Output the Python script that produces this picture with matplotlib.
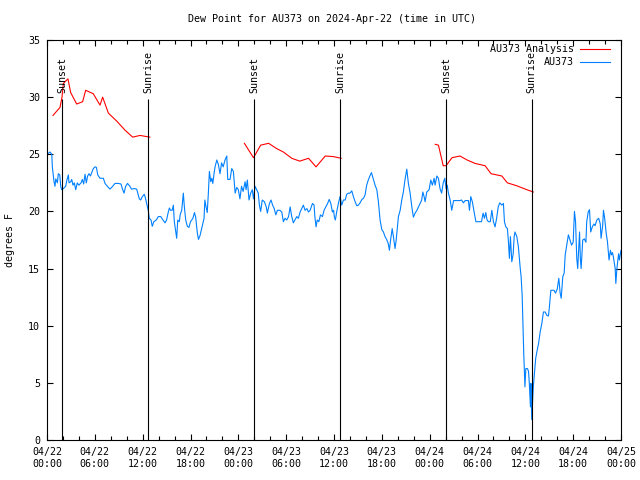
from datetime import datetime, timedelta

import matplotlib

matplotlib.use("Agg")

import matplotlib.pyplot as plt
import matplotlib.dates as mdates
import numpy as np
from matplotlib.lines import Line2D


START = datetime(2024, 4, 22)

# hours since 2024-04-22 00:00 UTC, dew point (F) of the station
obs_hours = [
    0.0, 0.38, 0.6, 0.67, 0.88, 1.0, 1.1, 1.3, 1.42, 1.6, 1.72, 1.84, 2.05, 2.34, 2.5,
    2.68, 2.76, 2.98, 3.1, 3.26, 3.43, 3.6, 3.8, 4.0, 4.27, 4.43, 4.6, 4.77, 4.93, 5.1,
    5.27, 5.45, 5.81, 6.02, 6.2, 6.36, 6.65, 7.07, 7.28, 7.57, 7.9, 8.24, 8.53, 8.95, 9.28,
    9.45, 9.66, 9.87, 10.1, 10.4, 10.6, 10.95, 11.25, 11.38, 11.58, 11.75, 11.96, 12.2, 12.3,
    12.5, 12.7, 12.83, 13.05, 13.2, 13.4, 13.7, 13.97, 14.27, 14.5, 14.8, 15.0, 15.2, 15.35,
    15.5, 15.7, 15.85, 15.97, 16.15, 16.27, 16.4, 16.6, 16.7, 16.9, 17.03, 17.1, 17.23, 17.4,
    17.6, 17.8, 18.0, 18.3, 18.5, 18.65, 18.86, 19.0, 19.2, 19.45, 19.7, 19.8, 19.95, 20.1,
    20.24, 20.37, 20.54, 20.67, 20.8, 20.95, 21.08, 21.3, 21.5, 21.7, 21.9, 22.1, 22.33,
    22.55, 22.67, 22.96, 23.17, 23.38, 23.6, 23.8, 24.0, 24.2, 24.4, 24.6, 24.85, 24.97,
    25.13, 25.34, 25.55, 25.76, 25.9, 26.1, 26.3, 26.5, 26.64, 26.8, 27.0, 27.27, 27.5,
    27.64, 27.9, 28.1, 28.3, 28.5, 28.7, 28.9, 29.2, 29.45, 29.65, 29.86, 30.07, 30.3, 30.5,
    30.7, 30.9, 31.1, 31.33, 31.53, 31.75, 31.96, 32.16, 32.37, 32.6, 32.8, 33.0, 33.3,
    33.5, 33.6, 33.75, 33.9, 34.1, 34.3, 34.55, 34.75, 34.97, 35.2, 35.4, 35.6, 35.8, 35.95,
    36.05, 36.17, 36.35, 36.55, 36.76, 36.97, 37.18, 37.4, 37.6, 37.8, 38.0, 38.23, 38.43,
    38.65, 38.86, 39.06, 39.27, 39.5, 39.7, 39.9, 40.1, 40.3, 40.5, 40.7, 40.9, 41.15, 41.37,
    41.57, 41.78, 42.0, 42.2, 42.4, 42.6, 42.8, 42.95, 43.1, 43.3, 43.45, 43.66, 43.8, 43.95,
    44.08, 44.3, 44.5, 44.7, 44.9, 45.13, 45.33, 45.55, 45.76, 45.96, 46.17, 46.4, 46.6,
    46.8, 47.0, 47.14, 47.3, 47.43, 47.64, 47.93, 48.14, 48.34, 48.56, 48.68, 48.9, 49.1,
    49.3, 49.5, 49.7, 49.9, 50.06, 50.2, 50.35, 50.57, 50.77, 51.0, 51.4, 51.8, 52.0, 52.23,
    52.45, 52.86, 52.99, 53.16, 53.37, 53.6, 53.8, 54.1, 54.5, 54.7, 54.87, 55.04, 55.2,
    55.37, 55.6, 55.8, 56.0, 56.2, 56.4, 56.6, 56.8, 57.05, 57.25, 57.38, 57.55, 57.75,
    57.88, 58.0, 58.13, 58.3, 58.47, 58.6, 58.7, 58.93, 59.13, 59.35, 59.47, 59.6, 59.7,
    59.8, 59.95, 60.06, 60.27, 60.4, 60.5, 60.64, 60.7, 60.8, 60.88, 61.0, 61.14, 61.3,
    61.5, 61.65, 61.86, 62.07, 62.27, 62.5, 62.7, 62.9, 63.0, 63.2, 63.4, 63.6, 63.78, 64.0,
    64.2, 64.37, 64.5, 64.7, 64.87, 65.0, 65.2, 65.4, 65.6, 65.8, 66.0, 66.16, 66.3, 66.45,
    66.57, 66.8, 66.9, 67.0, 67.2, 67.4, 67.6, 67.7, 67.9, 68.05, 68.2, 68.4, 68.6, 68.75,
    68.97, 69.2, 69.4, 69.5, 69.7, 69.8, 69.95, 70.14, 70.3, 70.5, 70.67, 70.8, 70.93,
    71.05, 71.27, 71.35, 71.5, 71.7, 71.8, 72.0,
]
obs_dewpt = [
    25.0, 25.2, 25.0, 23.9, 22.6, 22.2, 22.85, 22.5, 23.3, 23.2, 22.2, 21.9, 22.0, 22.2, 22.75,
    23.2, 22.5, 22.6, 22.8, 22.3, 22.5, 21.9, 22.5, 22.3, 22.5, 22.8, 22.4, 23.25, 22.5, 23.1,
    23.3, 23.1, 23.75, 23.9, 23.85, 23.2, 22.9, 22.9, 22.45, 22.2, 21.95, 22.2, 22.45, 22.45, 22.4,
    22.0, 21.6, 22.2, 22.45, 22.2, 21.95, 22.0, 21.95, 21.6, 21.1, 21.0, 21.3, 21.5, 21.3,
    20.7, 20.1, 19.4, 19.25, 18.7, 19.1, 19.25, 19.55, 19.55, 19.3, 19.0, 19.25, 19.9, 20.3,
    20.1, 20.1, 20.55, 19.1, 18.2, 17.65, 19.25, 19.1, 19.7, 20.1, 21.1, 21.6, 20.4, 19.25,
    18.7, 18.6, 19.1, 19.4, 19.9, 19.5, 18.1, 17.55, 17.9, 18.65, 19.4, 21.0, 20.4, 19.9,
    21.6, 23.5, 22.6, 22.9, 22.45, 23.3, 23.9, 24.5, 24.1, 23.3, 24.25, 23.9, 24.5,
    24.85, 22.8, 22.8, 23.75, 23.5, 21.6, 22.1, 21.9, 21.1, 22.2, 21.75, 22.6, 21.9,
    22.75, 21.0, 21.6, 21.9, 21.1, 22.2, 21.9, 21.6, 20.55, 20.0, 21.0, 20.85, 20.4,
    19.85, 20.7, 21.0, 20.55, 20.25, 19.7, 20.1, 20.1, 19.95, 19.1, 19.4, 19.25, 19.55, 20.4,
    19.55, 19.0, 19.25, 19.55, 19.4, 19.95, 20.25, 20.55, 20.1, 20.25, 19.95, 20.1, 20.7,
    20.55, 19.55, 18.65, 19.25, 19.1, 19.7, 19.55, 20.1, 20.4, 20.7, 21.05, 20.7, 19.95, 20.1,
    19.5, 19.25, 20.0, 20.7, 21.3, 20.55, 21.0, 21.0, 21.5, 21.6, 21.6, 21.8, 21.3,
    20.85, 20.5, 20.55, 20.75, 21.05, 21.15, 21.45, 22.3, 22.75, 23.1, 23.4, 22.9, 22.3, 21.9,
    20.85, 19.25, 18.4, 18.2, 17.8, 17.55, 17.2, 16.6, 17.5, 18.5, 17.8, 16.75, 17.5, 18.65,
    19.55, 20.1, 21.0, 21.7, 22.75, 23.7, 22.45, 21.6, 20.4, 19.5, 19.85, 20.1, 20.4,
    20.7, 21.0, 21.7, 21.3, 20.85, 21.7, 21.9, 22.75, 22.3, 22.9, 22.3, 23.1, 22.9,
    22.0, 21.6, 22.5, 22.9, 22.0, 22.3, 21.6, 21.0, 20.1, 20.95, 20.95, 20.95, 21.0, 20.75,
    20.95, 20.95, 20.1, 21.3, 20.8, 19.85, 19.1, 19.1, 19.1, 19.85, 19.4, 19.9, 19.25,
    19.1, 19.1, 20.1, 19.1, 18.65, 19.4, 20.4, 20.75, 20.55, 20.7, 19.1, 18.65, 18.5,
    17.35, 15.9, 17.8, 15.6, 16.25, 17.8, 18.2, 17.8, 16.9, 15.1, 14.3, 12.7, 10.2,
    7.6, 4.65, 6.25, 6.25, 6.0, 4.95, 2.9, 4.95, 1.8, 2.9, 4.65, 5.85, 7.15,
    7.9, 8.4, 9.45, 10.2, 11.2, 11.2, 10.9, 10.85, 11.5, 13.1, 13.1, 13.1, 12.85, 13.2,
    14.15, 12.85, 12.4, 14.3, 14.6, 16.2, 17.05, 17.95, 17.5, 17.05, 17.3, 20.0, 19.1, 15.9,
    15.0, 18.2, 15.9, 15.0, 17.5, 17.6, 17.3, 19.1, 20.0, 20.15, 18.2, 18.65, 18.9, 18.75,
    19.25, 19.4, 18.9, 17.65, 18.75, 20.1, 19.4, 18.1, 17.35, 15.75, 16.6, 16.2, 16.4,
    16.0, 15.0, 13.7, 15.1, 16.3, 15.75, 16.6,
]

# analysis dew point, gaps (nan) between the three runs
ana_hours = [
    0.75, 1.63, 1.88, 2.05, 2.63, 2.97, 3.72, 4.47, 4.85, 5.8, 6.65, 6.98, 7.7, 8.75, 9.8,
    10.75, 11.67, 12.9, np.nan,
    24.76, 25.9, 26.8, 27.8, 28.8, 29.65, 30.7, 31.7, 32.8, 33.75, 34.9, 35.9, 36.9, np.nan,
    48.7, 49.1, 49.7, 50.06, 50.8, 51.8, 52.7, 53.7, 54.95, 55.7, 57.05, 57.75, 58.9,
    60.2, 61.0,
]
ana_dewpt = [
    28.4, 29.1, 30.0, 31.2, 31.6, 30.4, 29.4, 29.6, 30.6, 30.3, 29.3, 30.0, 28.6, 27.9, 27.1,
    26.5, 26.65, 26.5, np.nan,
    25.96, 24.7, 25.8, 25.96, 25.5, 25.2, 24.65, 24.4, 24.65, 23.9, 24.85, 24.8, 24.65, np.nan,
    25.87, 25.8, 24.0, 24.0, 24.7, 24.85, 24.5, 24.2, 24.0, 23.3, 23.1, 22.5, 22.25,
    21.9, 21.7,
]

sun_hours = [1.92, 12.7, 26.0, 36.8, 50.1, 60.8]
sun_labels = ["Sunset", "Sunrise", "Sunset", "Sunrise", "Sunset", "Sunrise"]

RED = "#ff0000"
BLUE = "#0080ff"
FONT = "DejaVu Sans Mono"
FS = 7.2
LW = 0.8


def hours_to_num(hours):
    return [mdates.date2num(START + timedelta(hours=float(h))) if not np.isnan(h) else np.nan
            for h in hours]


plt.rcParams["font.family"] = FONT
plt.rcParams["font.size"] = FS

fig = plt.figure(figsize=(6.4, 4.8), dpi=100)
ax = fig.add_axes([47 / 640, 40 / 480, 574 / 640, 400 / 480])

ax.plot(hours_to_num(ana_hours), ana_dewpt, color=RED, lw=LW)
ax.plot(hours_to_num(obs_hours), obs_dewpt, color=BLUE, lw=LW)

for xx, lab in zip(hours_to_num(sun_hours), sun_labels):
    ax.vlines(xx, 0, 29.8, color="black", lw=LW)
    ax.text(xx, 30.35, lab, rotation=90, ha="center", va="bottom", fontsize=FS)

ax.set_xlim(mdates.date2num(START), mdates.date2num(START + timedelta(hours=72)))
ax.set_ylim(0, 35)
ax.yaxis.set_major_locator(plt.MultipleLocator(5))
ax.xaxis.set_major_locator(mdates.HourLocator(byhour=[0, 6, 12, 18]))
ax.xaxis.set_minor_locator(mdates.HourLocator(interval=2))
ax.xaxis.set_major_formatter(mdates.DateFormatter("%m/%d\n%H:%M"))

ax.tick_params(axis="both", which="both", direction="in", top=True, right=True,
               width=LW, labelsize=FS)
ax.tick_params(axis="both", which="major", length=4)
ax.tick_params(axis="x", which="minor", length=3)
ax.tick_params(axis="y", pad=5)
ax.tick_params(axis="x", pad=5)
for lbl in ax.get_xticklabels():
    lbl.set_linespacing(1.3)
for sp in ax.spines.values():
    sp.set_linewidth(LW)

fig.text(332 / 640, 1 - 19 / 480, "Dew Point for AU373 on 2024-Apr-22 (time in UTC)",
         ha="center", va="center", fontsize=FS)
fig.text(10 / 640, 0.5, "degrees F", rotation=90, ha="center", va="center", fontsize=FS)

# legend drawn by hand, right aligned text like gnuplot
for yy, lab, col in [(0.9775, "AU373 Analysis", RED), (0.945, "AU373", BLUE)]:
    ax.text(0.918, yy, lab, transform=ax.transAxes, ha="right", va="center", fontsize=FS)
    ax.add_line(Line2D([0.929, 0.981], [yy, yy], transform=ax.transAxes, color=col, lw=LW))

fig.savefig("out.png", dpi=100)
